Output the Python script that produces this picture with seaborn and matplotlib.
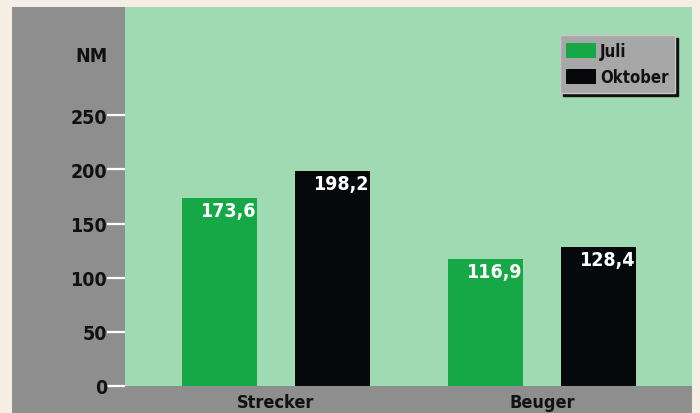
import matplotlib
matplotlib.use("Agg")
import matplotlib.pyplot as plt
import seaborn as sns
import pandas as pd
from matplotlib.patches import Rectangle

categories = ["Strecker", "Beuger"]
months = ["Juli", "Oktober"]
juli = [173.6, 116.9]
oktober = [198.2, 128.4]
value_labels = ["173,6", "116,9", "198,2", "128,4"]
yticks = [0, 50, 100, 150, 200, 250]
unit_label = "NM"

df = pd.DataFrame({
    "Muskel": categories * 2,
    "Monat": [months[0]] * 2 + [months[1]] * 2,
    "Wert": juli + oktober,
})

sns.set_theme(style="white")
plt.rcParams["font.family"] = ["DejaVu Sans"]
plt.rcParams["font.stretch"] = "condensed"
plt.rcParams["font.weight"] = "bold"

W, H = 700, 414
fig = plt.figure(figsize=(7, 4.14), dpi=100)
fig.patch.set_facecolor("#f4eee5")
bg = Rectangle((12 / W, 0), 680 / W, 406 / H, transform=fig.transFigure,
               facecolor="#8e8e8e", edgecolor="none", zorder=-10)
fig.patches.append(bg)

ax = fig.add_axes([125 / W, 27 / H, 567 / W, 379 / H])
ax.set_zorder(1)
ax.set_facecolor("#9fdab2")

palette = {"Juli": "#16a846", "Oktober": "#07080c"}
sns.barplot(data=df, x="Muskel", y="Wert", hue="Monat", order=categories,
            hue_order=months, palette=palette, width=0.85, gap=0.336,
            saturation=1, ax=ax, edgecolor="none", linewidth=0)

ax.set_xlim(-0.568, 1.564)
ax.set_ylim(0, 350)
for s in ax.spines.values():
    s.set_visible(False)

TXT = dict(fontweight="bold", fontstretch="condensed", family="DejaVu Sans")
ax.set_yticks(yticks)
ax.set_yticklabels([str(v) for v in yticks], fontsize=14, color="#111111", **TXT)
ax.tick_params(axis="y", direction="out", length=13, width=1.6, color="white", pad=0, left=True)
ax.tick_params(axis="x", length=0, pad=5)
ax.set_xticks(range(len(categories)))
ax.set_xticklabels(categories, fontsize=13, color="#111111", **TXT)
ax.set_xlabel("")
ax.set_ylabel("")

ax.text(-0.03, 305, unit_label, transform=ax.get_yaxis_transform(), ha="right", va="center",
        fontsize=14, color="#111111", clip_on=False, **TXT)

# value labels inside bars, top right
for bar_container, labels in zip(ax.containers, [value_labels[:2], value_labels[2:]]):
    for rect, lab in zip(bar_container, labels):
        ax.annotate(lab, (rect.get_x() + rect.get_width(), rect.get_height()),
                    xytext=(-1, -2), textcoords="offset points", ha="right", va="top",
                    fontsize=14, color="white", **TXT)

handles, labels = ax.get_legend_handles_labels()
leg = ax.legend(handles, labels, loc="upper right", bbox_to_anchor=(0.970, 0.925),
                frameon=True, fancybox=False,
                shadow={"color": "#111111", "alpha": 1, "ox": 2, "oy": -2},
                facecolor="#a7a7a7", edgecolor="#c8c8c8", framealpha=1,
                prop={"family": "DejaVu Sans", "weight": "bold", "stretch": "condensed", "size": 12},
                handlelength=1.8, handleheight=1.0, handletextpad=0.2,
                labelspacing=0.5, borderpad=0.4, borderaxespad=0)
for t in leg.get_texts():
    t.set_color("#111111")

fig.savefig("out.png", dpi=100, facecolor=fig.get_facecolor())
